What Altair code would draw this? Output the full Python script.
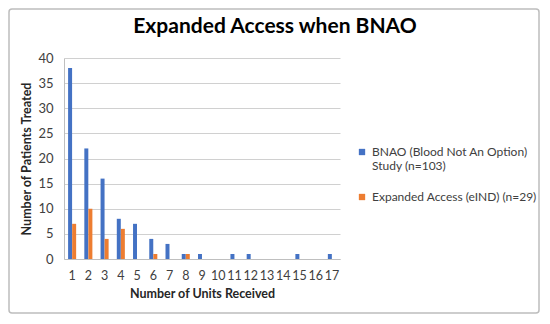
import altair as alt
import pandas as pd

units = [str(i) for i in range(1, 18)]
bnao = [38, 22, 16, 8, 7, 4, 3, 1, 1, 0, 1, 1, 0, 0, 1, 0, 1]
eind = [7, 10, 4, 6, 0, 1, 0, 1, 0, 0, 0, 0, 0, 0, 0, 0, 0]
series = ["BNAO (Blood Not An Option) Study (n=103)", "Expanded Access (eIND) (n=29)"]
colors = ["#4472C4", "#ED7D31"]
title_text = "Expanded Access when BNAO"

rows = []
for u, b, e in zip(units, bnao, eind):
    rows.append({"units": u, "series": series[0], "count": b})
    rows.append({"units": u, "series": series[1], "count": e})
df = pd.DataFrame(rows)

FONT = "Lato"
W, H = 276, 201
PL, PT, PR, PB = 56, 50, 200, 55

bars = alt.Chart(df).mark_bar(size=4).encode(
    x=alt.X("units:N", sort=units, scale=alt.Scale(paddingInner=0.5, paddingOuter=0.25),
            axis=alt.Axis(title="Number of Units Received", labelAngle=0, ticks=False,
                          domainColor="#bfbfbf", labelFontSize=12.5, labelColor="#404040",
                          labelPadding=10, titleFontSize=12.5, titleFontWeight="bold",
                          titleColor="#262626", titlePadding=6, labelFont=FONT, titleFont=FONT)),
    xOffset=alt.XOffset("series:N", sort=series),
    y=alt.Y("count:Q", scale=alt.Scale(domain=[0, 40]),
            axis=alt.Axis(title="Number of Patients Treated", values=list(range(0, 41, 5)),
                          ticks=False, domain=True, domainColor="#bfbfbf", gridColor="#d0d0d0",
                          labelFontSize=13, labelColor="#404040", labelPadding=11,
                          titleFontSize=12.5, titleFontWeight="bold", titleColor="#262626",
                          titlePadding=4, labelFont=FONT, titleFont=FONT)),
    color=alt.Color("series:N", sort=series,
                    scale=alt.Scale(domain=series, range=colors),
                    legend=alt.Legend(title=None, orient="none", legendX=292, legendY=88,
                                      symbolType="square", symbolSize=40, labelFontSize=12,
                                      labelColor="#404040", labelFont=FONT, rowPadding=19,
                                      labelLimit=300,
                                      labelExpr="datum.label == 'BNAO (Blood Not An Option) Study (n=103)' ? ['BNAO (Blood Not An Option)', 'Study (n=103)'] : datum.label")),
)

one = pd.DataFrame({"t": [title_text]})

border = alt.Chart(one).mark_rect(
    fillOpacity=0, fill="#ffffff", stroke="#bdbdbd", strokeWidth=1.5, cornerRadius=3
).encode(x=alt.value(-PL + 1), x2=alt.value(W + PR - 1),
         y=alt.value(-PT + 1), y2=alt.value(H + PB - 1))

title = alt.Chart(one).mark_text(
    font=FONT, fontSize=21, fontWeight="bold", color="#000000",
    align="center", baseline="alphabetic"
).encode(text="t:N", x=alt.value(211), y=alt.value(-25))

chart = alt.layer(border, title, bars).properties(
    width=W, height=H,
    autosize=alt.AutoSizeParams(type="none"),
    padding={"left": PL, "top": PT, "right": PR, "bottom": PB},
).configure_view(stroke=None).configure_axis(grid=True).configure_axisX(grid=False)

chart.save("out.html", embed_options={"renderer": "svg", "actions": False})
